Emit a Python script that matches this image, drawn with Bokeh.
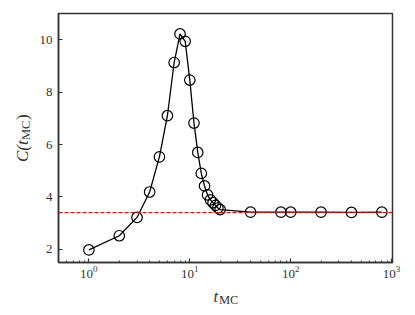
import numpy as np
from bokeh.plotting import figure
from bokeh.layouts import row, column
from bokeh.models import Range1d, Span, Label, FixedTicker, LogTicker
from bokeh.embed import file_html
from bokeh.resources import INLINE

# data
t_mc = [1, 2, 3, 4, 5, 6, 7, 8, 9, 10, 11, 12, 13, 14, 15, 16, 17, 18, 19, 20,
        40, 80, 100, 200, 400, 800]
c_vals = [1.98, 2.52, 3.22, 4.19, 5.53, 7.10, 9.13, 10.22, 9.94, 8.46, 6.82, 5.70,
          4.90, 4.42, 4.08, 3.89, 3.78, 3.68, 3.58, 3.52,
          3.42, 3.42, 3.42, 3.42, 3.41, 3.42]
c_inf = 3.40
y_ticks = [2, 4, 6, 8, 10]

FONT = "Liberation Serif"
INK = "#333333"

p = figure(width=371, height=284, x_axis_type="log",
           x_range=Range1d(0.5, 1020), y_range=Range1d(1.5, 11),
           output_backend="svg", toolbar_location=None,
           min_border_left=21, min_border_right=15, min_border_top=13,
           min_border_bottom=22)
p.grid.visible = False
p.outline_line_color = INK
p.outline_line_width = 1.5
p.background_fill_color = "white"
p.border_fill_color = "white"

p.xaxis.ticker = LogTicker(num_minor_ticks=10, desired_num_ticks=4)
p.yaxis.ticker = FixedTicker(ticks=y_ticks)
for ax in (p.xaxis[0], p.yaxis[0]):
    ax.axis_line_color = INK
    ax.axis_line_width = 1.5
    ax.major_tick_line_color = INK
    ax.major_tick_line_width = 1.2
    ax.major_tick_in = 4
    ax.major_tick_out = 0
    ax.minor_tick_line_color = INK
    ax.minor_tick_line_width = 1
    ax.minor_tick_in = 2
    ax.minor_tick_out = 0
    ax.major_label_text_font = FONT
    ax.major_label_text_font_size = "13px"
    ax.major_label_text_color = INK
    ax.major_label_standoff = 6
p.yaxis.minor_tick_line_color = None
p.xaxis.major_label_standoff = 3

p.line(t_mc, c_vals, line_color="black", line_width=1.3)
p.scatter(t_mc, c_vals, marker="circle", size=10.5, fill_color=None,
          line_color="black", line_width=1.2)
p.add_layout(Span(location=c_inf, dimension="width", line_color="red",
                  line_dash="4 2", line_width=1.3))


def text_fig(w, h, top=0, bottom=0):
    f = figure(width=w, height=h, x_range=Range1d(0, w), y_range=Range1d(0, h - top - bottom),
               output_backend="svg", toolbar_location=None,
               min_border_left=0, min_border_right=0,
               min_border_top=top, min_border_bottom=bottom,
               x_axis_location=None, y_axis_location=None)
    f.grid.visible = False
    f.outline_line_color = None
    f.background_fill_color = "white"
    f.border_fill_color = "white"
    return f


def lab(f, x, y, text, size, italic=False, angle=0):
    f.add_layout(Label(x=x, y=y, x_units="screen", y_units="screen", text=text,
                       angle=angle, angle_units="deg",
                       text_font=FONT, text_font_style="italic" if italic else "normal",
                       text_font_size=size, text_color=INK,
                       text_baseline="alphabetic", text_align="left"))


# y axis label: C(t_MC), rotated (frame of this strip spans the plot's frame height)
yfig = text_fig(36, 284, top=13, bottom=22)
lab(yfig, 22, 100.5, "C(", "17px", italic=True, angle=90)
lab(yfig, 22, 117.5, "t", "17px", italic=True, angle=90)
lab(yfig, 25.5, 122.5, "MC", "12.5px", angle=90)
lab(yfig, 22, 142.5, ")", "17px", angle=90)

# x axis label: t_MC
xfig = text_fig(407, 23)
lab(xfig, 213, 11, "t", "17px", italic=True)
lab(xfig, 218.5, 7.5, "MC", "12.5px")

layout = column(row(yfig, p, spacing=0), xfig, spacing=0)
open("out.html", "w").write(file_html(layout, INLINE))
